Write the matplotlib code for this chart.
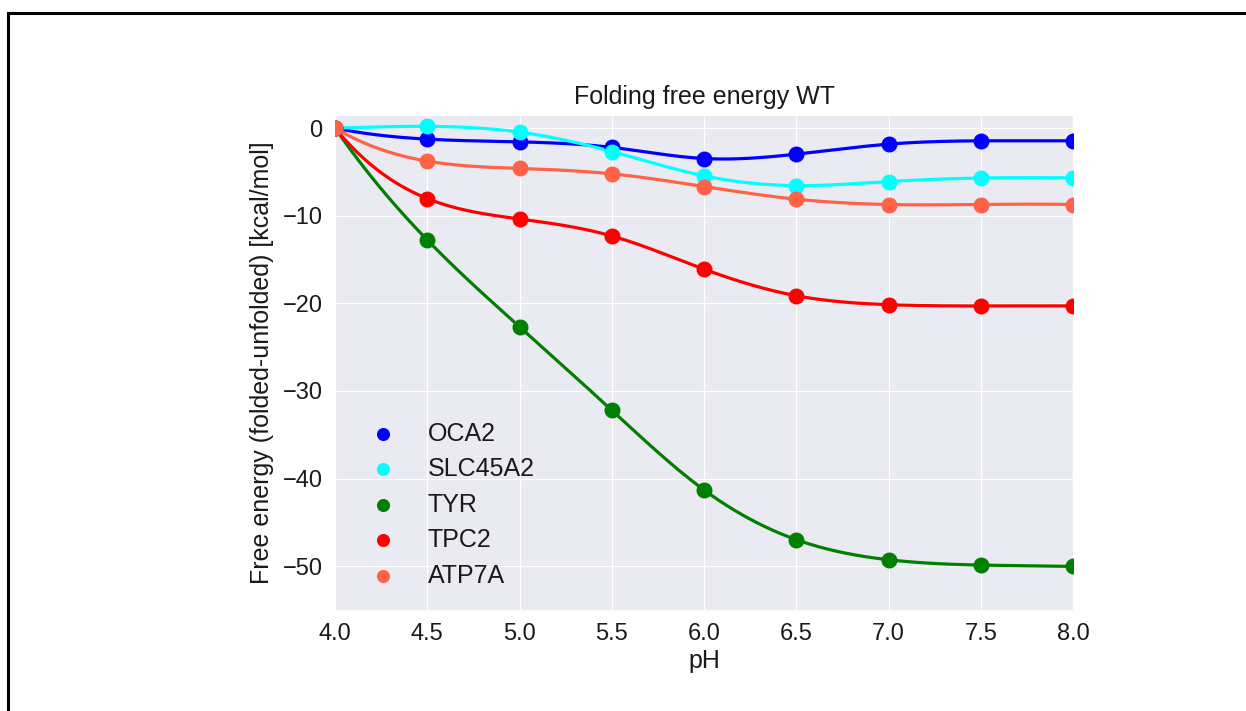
import numpy as np
import matplotlib
matplotlib.use("Agg")
import matplotlib.pyplot as plt
import seaborn as sns
from matplotlib.lines import Line2D

sns.set_style("darkgrid")
plt.rcParams['font.family'] = ['Liberation Sans', 'DejaVu Sans']

ph = [4.0, 4.5, 5.0, 5.5, 6.0, 6.5, 7.0, 7.5, 8.0]
oca2 = [0.0, -1.26, -1.57, -2.2, -3.47, -2.97, -1.83, -1.45, -1.45]
slc45a2 = [0.0, 0.2, -0.46, -2.67, -5.45, -6.56, -6.1, -5.7, -5.68]
tyr = [0.0, -12.77, -22.67, -32.2, -41.3, -46.97, -49.26, -49.87, -50.02]
tpc2 = [0.0, -8.04, -10.37, -12.31, -16.1, -19.13, -20.15, -20.3, -20.3]
atp7a = [0.0, -3.77, -4.6, -5.22, -6.67, -8.11, -8.72, -8.72, -8.72]

names = ["OCA2", "SLC45A2", "TYR", "TPC2", "ATP7A"]
series = [oca2, slc45a2, tyr, tpc2, atp7a]
colors = ["blue", "cyan", "green", "red", "tomato"]


def spline(x, y, xs):
    x = np.asarray(x, float)
    y = np.asarray(y, float)
    n = len(x)
    h = np.diff(x)
    A = np.zeros((n, n))
    b = np.zeros(n)
    for i in range(1, n - 1):
        A[i, i - 1] = h[i - 1]
        A[i, i] = 2 * (h[i - 1] + h[i])
        A[i, i + 1] = h[i]
        b[i] = 6 * ((y[i + 1] - y[i]) / h[i] - (y[i] - y[i - 1]) / h[i - 1])
    # not-a-knot
    A[0, 0] = h[1]; A[0, 1] = -(h[0] + h[1]); A[0, 2] = h[0]
    A[-1, -3] = h[-1]; A[-1, -2] = -(h[-2] + h[-1]); A[-1, -1] = h[-2]
    M = np.linalg.solve(A, b)
    idx = np.clip(np.searchsorted(x, xs) - 1, 0, n - 2)
    x0 = x[idx]; x1 = x[idx + 1]; hh = x1 - x0
    t0 = x1 - xs; t1 = xs - x0
    return (M[idx] * t0 ** 3 / (6 * hh) + M[idx + 1] * t1 ** 3 / (6 * hh)
            + (y[idx] / hh - M[idx] * hh / 6) * t0
            + (y[idx + 1] / hh - M[idx + 1] * hh / 6) * t1)


fig = plt.figure(figsize=(12.46, 7.11), dpi=100)
ax = fig.add_axes([0.2689, 0.1420, 0.8612 - 0.2689, 0.8383 - 0.1420])

xs = np.linspace(4.0, 8.0, 400)
for name, vals, c in zip(names, series, colors):
    ax.plot(xs, spline(ph, vals, xs), color=c, lw=2.3)
    ax.scatter(ph, vals, color=c, s=110, label=name, zorder=3, clip_on=True)

txt = "#1a1a1a"
ax.set_xlim(4.0, 8.0)
ax.set_ylim(-55, 1.5)
ax.set_xticks([4.0, 4.5, 5.0, 5.5, 6.0, 6.5, 7.0, 7.5, 8.0])
ax.set_yticks([0, -10, -20, -30, -40, -50])
ax.tick_params(labelsize=17, length=0, pad=9, labelcolor=txt)
ax.set_xlabel("pH", fontsize=18, labelpad=3, color=txt)
ax.set_ylabel("Free energy (folded-unfolded) [kcal/mol]", fontsize=18, labelpad=6, color=txt)
ax.set_title("Folding free energy WT", fontsize=18, pad=8, color=txt)

leg = ax.legend(loc="lower left", frameon=False, fontsize=18, scatterpoints=1,
                bbox_to_anchor=(0.0, 0.0), labelspacing=0.46, handletextpad=0.8,
                markerscale=0.8)
for t in leg.get_texts():
    t.set_color(txt)

top = 1 - 12.5 / 711
left = 7.5 / 1246
fig.add_artist(Line2D([left, left], [-0.1, top], transform=fig.transFigure,
                      color="black", lw=2.2, solid_capstyle="projecting"))
fig.add_artist(Line2D([left, 1.1], [top, top], transform=fig.transFigure,
                      color="black", lw=2.2, solid_capstyle="projecting"))

fig.savefig("out.png", dpi=100)
